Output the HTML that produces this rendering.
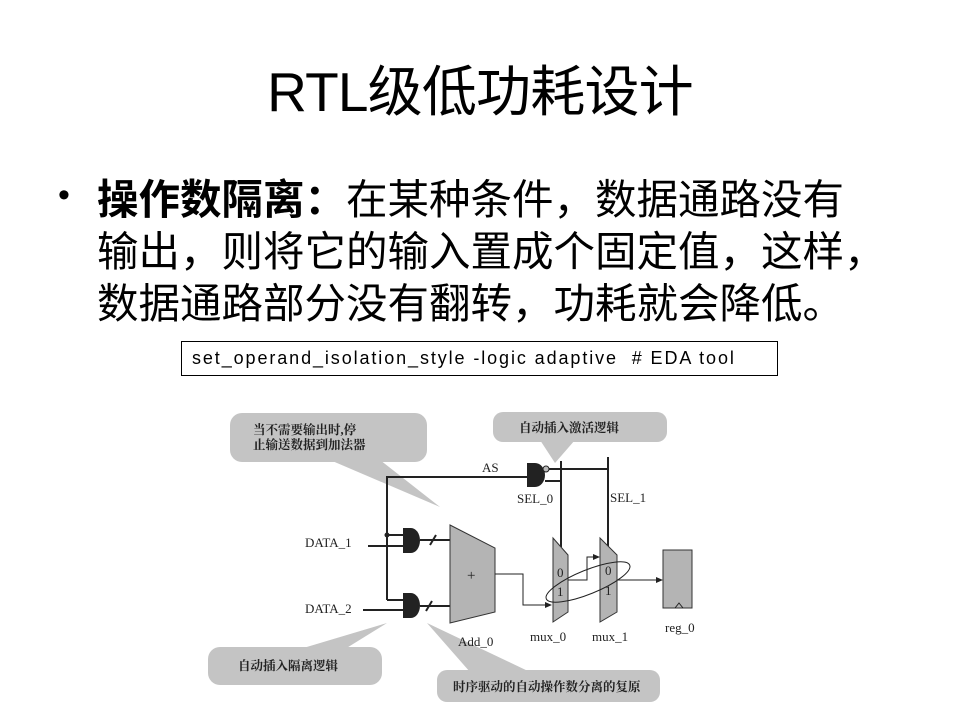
<!DOCTYPE html>
<html><head><meta charset="utf-8"><style>
body{margin:0;width:960px;height:720px;background:#fff;position:relative;overflow:hidden;font-family:"Liberation Sans","Noto Sans CJK SC",sans-serif}
.t{position:absolute;left:0;width:960px;text-align:center;top:60px;font-size:55px;line-height:64px;letter-spacing:-0.8px}
.b{position:absolute;left:97px;top:174px;font-size:41.5px;line-height:52px;white-space:nowrap;color:#000}
.dot{position:absolute;left:58px;top:176px;font-size:34px}
.box{position:absolute;left:181px;top:341px;width:597px;height:35px;border:1px solid #000;box-sizing:border-box;font-size:18px;line-height:33px;padding-left:10px;letter-spacing:1.9px;white-space:nowrap}
svg{position:absolute;left:0;top:0}
</style></head><body>
<div class="t">RTL级低功耗设计</div>
<div class="dot">•</div>
<div class="b"><b>操作数隔离：</b>在某种条件，数据通路没有<br>输出，则将它的输入置成个固定值，这样，<br>数据通路部分没有翻转，功耗就会降低。</div>
<div class="box">set_operand_isolation_style -logic adaptive &nbsp;# EDA tool</div>
<svg width="960" height="720" font-family="Liberation Serif,Noto Serif CJK SC,serif">
<g fill="#c4c4c4">
<rect x="230" y="413" width="197" height="49" rx="12"/>
<polygon points="330,460 380,460 440,507"/>
<rect x="493" y="412" width="174" height="30" rx="10"/>
<polygon points="540,440 575,440 555,463"/>
<rect x="208" y="647" width="174" height="38" rx="12"/>
<polygon points="300,649 345,649 387,623"/>
<rect x="437" y="670" width="223" height="32" rx="10"/>
<polygon points="470,672 530,672 427,623"/>
</g>
<g font-size="12.5" fill="#222" font-weight="bold">
<text x="253" y="434">当不需要输出时,停</text>
<text x="253" y="449">止输送数据到加法器</text>
<text x="519" y="432">自动插入激活逻辑</text>
<text x="238" y="670">自动插入隔离逻辑</text>
<text x="453" y="691">时序驱动的自动操作数分离的复原</text>
</g>
<g stroke="#222" stroke-width="2" fill="none">
<polyline points="387,600 387,477 530,477"/>
<line x1="387" y1="600" x2="405" y2="600"/>
<line x1="368" y1="546" x2="405" y2="546"/>
<line x1="387" y1="535" x2="405" y2="535"/>
<line x1="363" y1="610" x2="405" y2="610"/>
<line x1="561" y1="461" x2="561" y2="547"/>
<line x1="608" y1="457" x2="608" y2="550"/>
<line x1="545" y1="469" x2="608" y2="469"/>
<line x1="545" y1="481" x2="561" y2="481"/>
<line x1="420" y1="540" x2="450" y2="540"/>
<line x1="420" y1="606" x2="450" y2="606"/>
<line x1="430" y1="545" x2="436" y2="535"/>
<line x1="426" y1="611" x2="432" y2="601"/>
</g>
<circle cx="387" cy="535" r="2.5" fill="#222"/>
<g fill="#222">
<path d="M403,528 h8 a9,12.5 0 0 1 0,25 h-8z"/>
<path d="M403,593 h8 a9,12.5 0 0 1 0,25 h-8z"/>
<path d="M527,463 h8 a10,12 0 0 1 0,24 h-8z"/>
</g>
<circle cx="546" cy="469" r="3" fill="#bbb" stroke="#222"/>
<g fill="#b4b4b4" stroke="#333" stroke-width="1">
<polygon points="450,525 495,548 495,612 450,623"/>
<polygon points="553,538 568,555 568,612 553,622"/>
<polygon points="600,538 617,555 617,612 600,622"/>
<rect x="663" y="550" width="29" height="58"/>
</g>
<g stroke="#222" stroke-width="1" fill="none">
<polyline points="495,574 523,574 523,605 550,605"/>
<polyline points="568,580 587,580 587,557 598,557"/>
<line x1="617" y1="580" x2="660" y2="580"/>
<polyline points="675,608 679,603 683,608"/>
<ellipse cx="588" cy="582" rx="45" ry="12" transform="rotate(-22 588 582)"/>
</g>
<g fill="#222">
<polygon points="552,605 545,602 545,608"/>
<polygon points="600,557 593,554 593,560"/>
<polygon points="663,580 656,577 656,583"/>
</g>
<g font-size="13" fill="#222">
<text x="467" y="580" font-size="15">+</text>
<text x="557" y="577">0</text><text x="557" y="596">1</text>
<text x="605" y="575">0</text><text x="605" y="595">1</text>
<text x="305" y="547">DATA_1</text>
<text x="305" y="613">DATA_2</text>
<text x="482" y="472">AS</text>
<text x="517" y="503">SEL_0</text>
<text x="610" y="502">SEL_1</text>
<text x="530" y="641">mux_0</text>
<text x="592" y="641">mux_1</text>
<text x="665" y="632">reg_0</text>
<text x="458" y="646">Add_0</text>
</g>
</svg>
</body></html>
